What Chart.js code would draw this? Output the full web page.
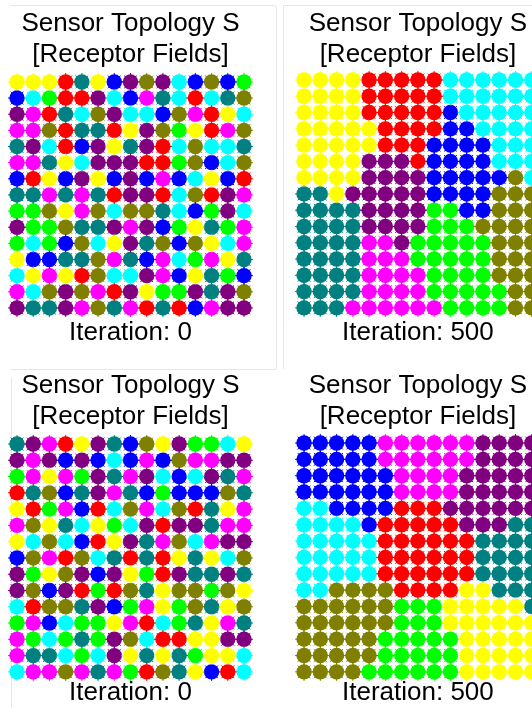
<!DOCTYPE html>
<html>
<head>
<meta charset="utf-8">
<script src="https://cdn.jsdelivr.net/npm/chart.js"></script>
<style>
    body { margin: 0; width: 532px; height: 708px; overflow: hidden; background: #fff; position: relative; }
    canvas { position: absolute; }
    .edge { position: absolute; border-color: #e6e6e6; border-style: solid; border-width: 0; }
</style>
</head>
<body>
<div class="edge" style="left:10px;top:5px;width:266px;height:363px;border-top-width:1px;border-right-width:1px;border-bottom-width:1px;border-radius:0 3px 3px 0;"></div>
<div class="edge" style="left:283px;top:5px;width:260px;height:363px;border-left-width:1px;border-top-width:1px;"></div>
<div class="edge" style="left:11px;top:378px;width:1px;height:330px;border-left-width:1px;"></div>

<canvas id="topLeft" width="266" height="352" style="left:0px;top:0px;"></canvas>
<canvas id="topRight" width="266" height="352" style="left:283px;top:0px;"></canvas>
<canvas id="bottomLeft" width="266" height="347" style="left:0px;top:360px;"></canvas>
<canvas id="bottomRight" width="266" height="347" style="left:283px;top:360px;"></canvas>

<script>
// colour categories (one letter per receptor field)
var fieldCodes = ["Y", "R", "C", "B", "P", "O", "T", "G", "M"];
var fieldNames = ["yellow", "red", "cyan", "blue", "purple", "olive", "teal", "green", "magenta"];
var fieldColors = ["#ffff00", "#ff0000", "#00ffff", "#0000ff", "#800080", "#808000", "#008080", "#00ff00", "#ff00ff"];

var titleLines = ["Sensor Topology S", "[Receptor Fields]"];
var iterationLabels = ["Iteration: 0", "Iteration: 500", "Iteration: 0", "Iteration: 500"];

// grid rows, top row first, one letter per sensor
var gridTopLeft = [
    "YYYRTYBPOPCBOBG",
    "BCGRRPCBMTCRCTO",
    "PMRTCOPCCBOMRYC",
    "MMORTTRYPOGYRMO",
    "TPCRBPYTPRCOCCT",
    "MMTYCPPPRRGOBCO",
    "BRYBPYBPBMBCYBR",
    "TTMTMTRPPRCORPM",
    "GGOYMOCOOTCBGPC",
    "PGGOTTPMPBGYTGM",
    "GCGBOCYPTOBOYCM",
    "YBBTTOMTBMCGMYT",
    "CYMYROCCPMBYTGB",
    "MCOPOMRPYGGPTPO",
    "PTTPMOTMRTRBMPP"
];

var gridTopRight = [
    "YYYYRRRRRCCCCCC",
    "YYYYRRRRRCCCCCC",
    "YYYYRRRRRBCCCCC",
    "YYYYYRRRRBBCCCC",
    "YYYYYRRRBBBBCCC",
    "YYYYPPPRBBBBCCC",
    "YYYYPPPPBBBBBOC",
    "TTYPPPPPBBBBOOO",
    "TTTTPPPPGGBBOOO",
    "TTTTPPPPGGGOOOO",
    "TTTTMMPGGGGGOOO",
    "TTTTMMMGGGGGOOO",
    "TTTTMMMMGGGGOOO",
    "TTTTMMMMGGGGGOO",
    "TTTMMMMMMGGGGOO"
];

var gridBottomLeft = [
    "TPMRYPTBOYPGGCY",
    "PMPBPBCBMBOMMPP",
    "GMYMGPTMPCBCPTM",
    "RTOBTPMTBGBBBOT",
    "YRGMBRCOMCORTYM",
    "MOYTCYGCPRPPTMM",
    "YCOCBRYPTMOCMPP",
    "BOMROCTRTRYTYCO",
    "PGYOPBPYGRPTTPT",
    "POBPRGROTYOOGOY",
    "CROOTPBGMYGOTYO",
    "GMBCGGYMRCGTYMT",
    "MGCGTGPOCRRYYPP",
    "MTTCGCPYTYTGYYC",
    "CMMOMTMGROTYBRC"
];

var gridBottomRight = [
    "BBBBBMMMMMMPPPP",
    "BBBBBMMMMMMPPPP",
    "BBBBBBMMMMPPPPP",
    "BBBBBBMMMMPPPPP",
    "CCBBBBRRRPPPPPP",
    "CCCCBRRRRRPPPTT",
    "CCCCCRRRRRRTTTT",
    "CCCCCRRRRRRTTTT",
    "CCCCCRRRRRRTTTT",
    "CCOOOORRRRYYTTT",
    "OOOOOOGGGYYYYYT",
    "OOOOOOGGGYYYYYY",
    "OOOOOGGGGGYYYYY",
    "OOOOOGGGGGYYYYY",
    "OOOOGGGGGGYYYYY"
];


function makeDatasets(grid) {
    var sets = [];
    var n = grid.length;
    for (var k = 0; k < fieldCodes.length; k++) {
        var pts = [];
        for (var r = 0; r < n; r++) {
            for (var c = 0; c < grid[r].length; c++) {
                if (grid[r].charAt(c) == fieldCodes[k]) {
                    pts.push({x: c + 1, y: n - r});
                }
            }
        }
        // round body of the marker
        sets.push({
            label: fieldNames[k],
            data: pts,
            pointStyle: 'circle',
            pointRadius: 7.7,
            pointBorderWidth: 0,
            backgroundColor: fieldColors[k],
            borderColor: fieldColors[k],
            clip: false
        });
        // little spikes round the marker
        sets.push({
            label: fieldNames[k] + " edge",
            data: pts,
            pointStyle: 'star',
            pointRadius: 9,
            pointBorderWidth: 1,
            backgroundColor: fieldColors[k],
            borderColor: fieldColors[k],
            clip: false
        });
    }
    return sets;
}


function makePanel(canvasId, grid, label, pad) {
    var ctx = document.getElementById(canvasId);
    return new Chart(ctx, {
        type: 'scatter',
        data: {datasets: makeDatasets(grid)},
        options: {
            responsive: false,
            animation: false,
            events: [],
            layout: {
                autoPadding: false,
                padding: {left: pad.left, right: pad.right, top: 0, bottom: 0}
            },
            scales: {
                x: {display: false, min: 0.5, max: 15.5},
                y: {display: false, min: 0.5, max: 15.5}
            },
            plugins: {
                legend: {display: false},
                tooltip: {enabled: false},
                title: {
                    display: true,
                    text: titleLines,
                    color: '#000',
                    font: {family: "'Liberation Sans', Arial, sans-serif", size: 26, weight: 'normal', lineHeight: 1.18},
                    padding: {top: pad.titleTop, bottom: pad.titleBottom}
                },
                subtitle: {
                    display: true,
                    position: 'bottom',
                    text: label,
                    color: '#000',
                    font: {family: "'Liberation Sans', Arial, sans-serif", size: 26, weight: 'normal', lineHeight: pad.labelLine},
                    padding: {top: pad.labelTop, bottom: pad.labelBottom}
                }
            }
        }
    });
}


function initEvents() {
    makePanel("topLeft", gridTopLeft, iterationLabels[0],
            {left: 8.9, right: 13.9, titleTop: 8.7, titleBottom: 3.8, labelTop: 1, labelBottom: 3.8, labelLine: 1.2});
    makePanel("topRight", gridTopRight, iterationLabels[1],
            {left: 12.9, right: 9.1, titleTop: 8.7, titleBottom: 1.8, labelTop: 1, labelBottom: 3.8, labelLine: 1.2});
    makePanel("bottomLeft", gridBottomLeft, iterationLabels[2],
            {left: 8.9, right: 13.9, titleTop: 10.6, titleBottom: 3.9, labelTop: 0, labelBottom: 1, labelLine: 1.0});
    makePanel("bottomRight", gridBottomRight, iterationLabels[3],
            {left: 12.9, right: 9.1, titleTop: 10.6, titleBottom: 2.9, labelTop: 0, labelBottom: 1, labelLine: 1.0});
}


document.addEventListener('DOMContentLoaded', initEvents);
</script>
</body>
</html>
